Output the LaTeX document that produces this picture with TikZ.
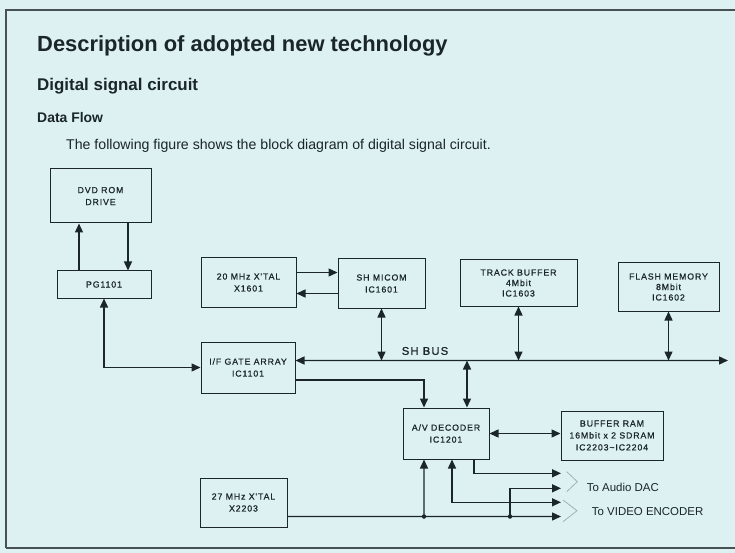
\documentclass[tikz,border=0pt]{standalone}
\usepackage{fontspec}
\setmainfont{Liberation Sans}
\newfontfamily\boxfont[LetterSpace=10,FakeBold=0.7]{Liberation Sans}
\usetikzlibrary{arrows.meta}
\usetikzlibrary{calc}
\definecolor{paper}{HTML}{DDF1F3}
\definecolor{ink}{HTML}{1A2628}
\definecolor{chevgray}{HTML}{A3B0B2}
\tikzset{blk/.style={draw=ink, line width=1bp, align=center, inner sep=0pt,
                     font=\boxfont\fontsize{8.8}{12}\selectfont}}
\tikzset{wire/.style={draw=ink, line width=1.4bp}}
\tikzset{jdot/.style={circle, fill=ink, inner sep=0pt, minimum size=4.5bp}}
\tikzset{chev/.style={draw=chevgray, line width=0.8bp}}
\tikzset{frame/.style={draw=ink!80, line width=1.2bp}}
\tikzset{head/.style={anchor=base west, inner sep=0pt}}

\begin{document}
\begin{tikzpicture}[x=1bp,y=-1bp,>={Triangle[length=9bp,width=8bp]},
                    every node/.style={text=ink}]
   \fill[paper] (0,0) rectangle (735,553);
   \useasboundingbox (0,0) rectangle (735,553);
   \draw[frame] (6,548) -- (6,10) -- (745,10);
   \draw[frame] (6,548) -- (745,548);

   % headings
   \node[head,font=\bfseries\fontsize{22}{26}\selectfont] (title) at (37,52) {Description of adopted new technology};
   \node[head,font=\bfseries\fontsize{17}{20}\selectfont] (sub) at (37,91) {Digital signal circuit};
   \node[head,font=\bfseries\fontsize{14}{16}\selectfont] (flow) at (37,123) {Data Flow};
   \node[head,font=\fontsize{14.2}{16}\selectfont] (intro) at (66,150) {The following figure shows the block diagram of digital signal circuit.};

   % blocks
   \node[blk,minimum width=101bp,minimum height=54bp] (dvd)    at (100.5,196)  {DVD ROM\\DRIVE};
   \node[blk,minimum width=94bp, minimum height=27bp] (pg)     at (104,284.5)  {PG1101};
   \node[blk,minimum width=95bp, minimum height=49bp] (xtalA)  at (248.5,282.5) {20 MHz X'TAL\\X1601};
   \node[blk,minimum width=87bp, minimum height=49bp] (micom)  at (381.5,283.5) {SH MICOM\\IC1601};
   \node[blk,minimum width=117bp,minimum height=46bp,font=\boxfont\fontsize{8.8}{10.5}\selectfont] (track) at (518.5,283) {TRACK BUFFER\\4Mbit\\IC1603};
   \node[blk,minimum width=101bp,minimum height=48bp,font=\boxfont\fontsize{8.8}{10.5}\selectfont] (flash) at (668.5,287) {FLASH MEMORY\\8Mbit\\IC1602};
   \node[blk,minimum width=94bp, minimum height=51bp] (ifga)   at (248,367.5)  {I/F GATE ARRAY\\IC1101};
   \node[blk,minimum width=86bp, minimum height=51bp] (dec)    at (446,433.5)  {A/V DECODER\\IC1201};
   \node[blk,minimum width=102bp,minimum height=49bp,font=\boxfont\fontsize{8.8}{12}\selectfont] (bufram) at (612,435.5) {BUFFER RAM\\16Mbit x 2 SDRAM\\IC2203\textasciitilde IC2204};
   \node[blk,minimum width=87bp, minimum height=49bp] (xtalB)  at (243.5,502.5) {27 MHz X'TAL\\X2203};

   % bus
   \coordinate (busW) at ([yshift=7bp]ifga.east);
   \coordinate (busE) at (728,360.5);
   \draw[wire,<->] (busW) -- (busE);
   \node[font=\boxfont\fontsize{11.3}{14}\selectfont,inner sep=0pt] (busname) at (425,351) {SH BUS};

   % output ends
   \coordinate (outA) at (561,473.3);
   \coordinate (outB) at (561,488.3);
   \coordinate (outC) at (561,502.3);
   \coordinate (outD) at (561,516.5);
   \coordinate (jA) at (424,516.5);
   \coordinate (jB) at (510,516.5);

   % connections
   \draw[wire,->] ([xshift=-25bp]pg.north) -- ([xshift=-25bp]pg.north |- dvd.south);
   \draw[wire,->] ([xshift=24bp]pg.north |- dvd.south) -- ([xshift=24bp]pg.north);
   \draw[wire,<->] (pg.south) |- (ifga.west);
   \draw[wire,->] ([yshift=10bp]xtalA.east) -- ([yshift=10bp]xtalA.east -| micom.west);
   \draw[wire,->] ([yshift=-10bp]micom.west) -- ([yshift=-10bp]micom.west -| xtalA.east);
   \draw[wire,<->] (micom.south) -- (micom.south |- busW);
   \draw[wire,<->] (track.south) -- (track.south |- busW);
   \draw[wire,<->] (flash.south) -- (flash.south |- busW);
   \draw[wire,<->] ([xshift=21bp]dec.north) -- ([xshift=21bp]dec.north |- busW);
   \draw[wire,->] ([yshift=-12.5bp]ifga.east) -| ([xshift=-22bp]dec.north);
   \draw[wire,<->] (dec.east) -- (dec.east -| bufram.west);
   \draw[wire,->] ([xshift=28bp]dec.south) |- (outA);
   \draw[wire,->] ([yshift=-14bp]xtalB.east) -- (outD);
   \draw[wire,->] (jA) -- ([xshift=-22bp]dec.south);
   \draw[wire,->] (jB) |- (outB);
   \draw[wire,<->] ([xshift=6bp]dec.south) |- (outC);
   \node[jdot] at (jA) {};
   \node[jdot] at (jB) {};

   % destinations
   \draw[chev] (566.7,471.7) -- (577.3,481.7) -- (566.7,491.7);
   \draw[chev] (563,500) -- (577,510.7) -- (563,521.7);
   \node[anchor=west,inner sep=0pt,font=\fontsize{11.5}{14}\selectfont] (audio) at (586.7,487.3) {To Audio DAC};
   \node[anchor=west,inner sep=0pt,font=\fontsize{11.5}{14}\selectfont] (video) at (591.7,511.7) {To VIDEO ENCODER};
\end{tikzpicture}
\end{document}
